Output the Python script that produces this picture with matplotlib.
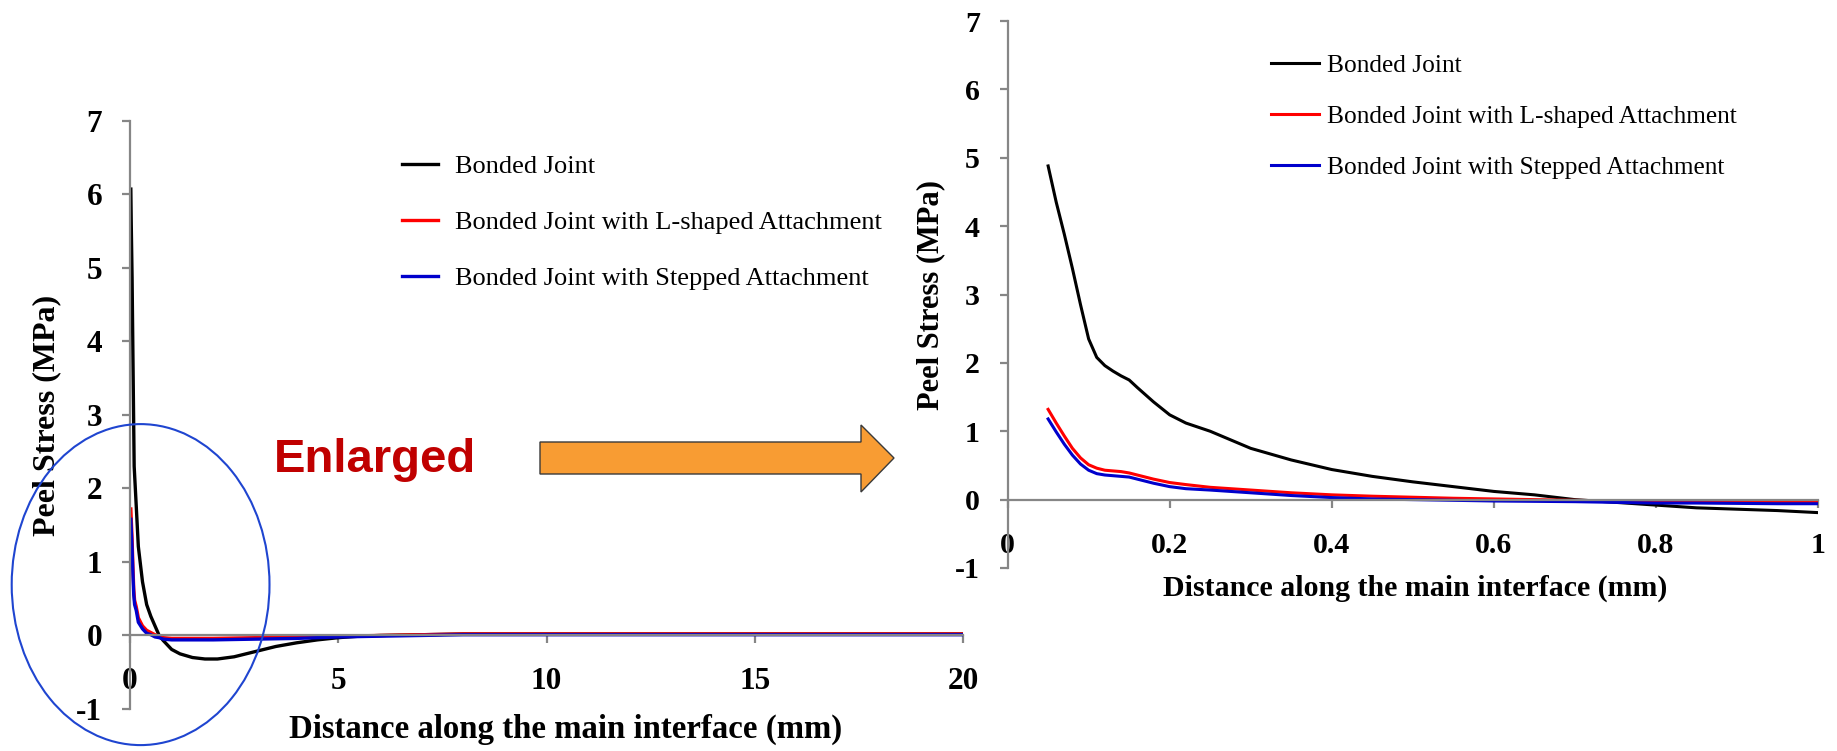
import matplotlib
matplotlib.use("Agg")
import matplotlib.pyplot as plt
from matplotlib.patches import Ellipse, Polygon

# ---------------- data ----------------
series_names = ["Bonded Joint",
                "Bonded Joint with L-shaped Attachment",
                "Bonded Joint with Stepped Attachment"]
series_colors = ["#000000", "#FF0000", "#0000CC"]

# Full interface (left chart), mm / MPa
full_x_black = [0.02, 0.03, 0.05, 0.08, 0.1, 0.15, 0.2, 0.3, 0.4, 0.5, 0.6, 0.7, 0.8, 1.0, 1.2,
                1.5, 1.8, 2.1, 2.5, 3.0, 3.5, 4.0, 4.5, 5.0, 5.5, 6.0, 7.0, 8.0, 10.0, 12.0, 15.0, 18.0, 20.0]
full_y_black = [6.07, 5.6, 4.87, 3.3, 2.3, 1.76, 1.21, 0.73, 0.42, 0.26, 0.13, 0.0, -0.07, -0.19, -0.25,
                -0.30, -0.32, -0.32, -0.29, -0.22, -0.15, -0.10, -0.06, -0.03, -0.01, 0.0, 0.01, 0.02, 0.02, 0.02, 0.02, 0.02, 0.02]
full_x_lshape = [0.02, 0.05, 0.07, 0.09, 0.11, 0.15, 0.2, 0.3, 0.4, 0.5, 0.6, 0.7, 0.8, 1.0,
                 2.0, 3.0, 4.0, 5.0, 6.0, 7.0, 8.0, 10.0, 12.0, 15.0, 18.0, 20.0]
full_y_lshape = [1.72, 1.32, 0.94, 0.63, 0.48, 0.39, 0.24, 0.13, 0.07, 0.04, 0.01, -0.01, -0.03, -0.04,
                 -0.04, -0.03, -0.02, -0.01, 0.0, 0.01, 0.02, 0.02, 0.02, 0.02, 0.02, 0.02]
full_x_stepped = [0.02, 0.05, 0.07, 0.09, 0.11, 0.15, 0.2, 0.3, 0.4, 0.5, 0.6, 0.7, 0.8, 1.0,
                  2.0, 3.0, 4.0, 5.0, 6.0, 7.0, 8.0, 10.0, 12.0, 15.0, 18.0, 20.0]
full_y_stepped = [1.58, 1.18, 0.84, 0.55, 0.42, 0.34, 0.18, 0.09, 0.03, 0.01, -0.02, -0.03, -0.05, -0.06,
                  -0.06, -0.05, -0.04, -0.02, -0.01, 0.0, 0.01, 0.01, 0.01, 0.01, 0.01, 0.01]

# Enlarged region (right chart)
zoom_x = [0.05, 0.06, 0.07, 0.08, 0.09, 0.1, 0.11, 0.12, 0.13, 0.14, 0.15, 0.16, 0.18, 0.2, 0.22, 0.25,
          0.3, 0.35, 0.4, 0.45, 0.5, 0.55, 0.6, 0.65, 0.7, 0.75, 0.8, 0.85, 0.9, 0.95, 1.0]
zoom_y_black = [4.88, 4.35, 3.88, 3.38, 2.85, 2.35, 2.08, 1.96, 1.88, 1.81, 1.75, 1.64, 1.43, 1.24, 1.12, 1.0,
                0.75, 0.58, 0.44, 0.34, 0.26, 0.19, 0.12, 0.07, 0.0, -0.04, -0.08, -0.12, -0.14, -0.16, -0.19]
zoom_y_lshape = [1.32, 1.12, 0.93, 0.75, 0.61, 0.51, 0.46, 0.43, 0.42, 0.41, 0.39, 0.36, 0.30, 0.25, 0.22, 0.18,
                 0.14, 0.10, 0.07, 0.05, 0.035, 0.02, 0.01, 0.0, -0.01, -0.02, -0.03, -0.035, -0.04, -0.04, -0.04]
zoom_y_stepped = [1.18, 0.99, 0.81, 0.65, 0.52, 0.43, 0.38, 0.36, 0.35, 0.34, 0.33, 0.30, 0.24, 0.19, 0.16, 0.14,
                  0.10, 0.06, 0.03, 0.01, 0.0, -0.01, -0.02, -0.025, -0.03, -0.04, -0.05, -0.05, -0.055, -0.06, -0.06]

left_xticks = [0, 5, 10, 15, 20]
left_xticklabels = ["0", "5", "10", "15", "20"]
right_xticks = [0, 0.2, 0.4, 0.6, 0.8, 1.0]
right_xticklabels = ["0", "0.2", "0.4", "0.6", "0.8", "1"]
yticks = [-1, 0, 1, 2, 3, 4, 5, 6, 7]
yticklabels = ["-1", "0", "1", "2", "3", "4", "5", "6", "7"]

x_label = "Distance along the main interface (mm)"
y_label = "Peel Stress (MPa)"

# ---------------- figure ----------------
W, H = 1837, 751
fig = plt.figure(figsize=(W / 100, H / 100), dpi=100)
SERIF = "Liberation Serif"
AX_GRAY = "#868686"


def fx(px):
    return px / W


def fy(py):
    return 1 - py / H


def style_axes(ax, xlim, xticks, xticklabels, tsize, xpad, ypad):
    ax.set_xlim(*xlim)
    ax.set_ylim(-1, 7)
    for s in ("top", "right"):
        ax.spines[s].set_visible(False)
    ax.spines["bottom"].set_position(("data", 0))
    for s in ("left", "bottom"):
        ax.spines[s].set_color(AX_GRAY)
        ax.spines[s].set_linewidth(1.6)
    ax.set_xticks(xticks)
    ax.set_xticklabels(xticklabels)
    ax.set_yticks(yticks)
    ax.set_yticklabels(yticklabels)
    ax.tick_params(axis="both", direction="out", length=6, width=1.6, color=AX_GRAY)
    ax.tick_params(axis="x", pad=xpad)
    ax.tick_params(axis="y", pad=ypad)
    for lab in ax.get_xticklabels() + ax.get_yticklabels():
        lab.set_fontfamily(SERIF)
        lab.set_fontweight("bold")
        lab.set_fontsize(tsize)
    ax.patch.set_alpha(0)


# Left chart
axL = fig.add_axes([fx(130), fy(709), fx(963 - 130), (709 - 120.7) / H])
axL.plot(full_x_black, full_y_black, color=series_colors[0], lw=2.4, label=series_names[0])
axL.plot(full_x_lshape, full_y_lshape, color=series_colors[1], lw=2.4, label=series_names[1])
axL.plot(full_x_stepped, full_y_stepped, color=series_colors[2], lw=2.4, label=series_names[2])
style_axes(axL, (0, 20), left_xticks, left_xticklabels, 22.5, 17, 14)
legL = axL.legend(loc="upper left", bbox_to_anchor=(fx(402), fy(155)), bbox_transform=fig.transFigure,
                  frameon=False, borderpad=0, borderaxespad=0, handlelength=1.35, handletextpad=0.65,
                  labelspacing=1.22, prop={"family": SERIF, "size": 19})

# Right chart
axR = fig.add_axes([fx(1007.6), fy(568), fx(1818 - 1007.6), (568 - 21) / H])
axR.plot(zoom_x, zoom_y_black, color=series_colors[0], lw=2.2, label=series_names[0])
axR.plot(zoom_x, zoom_y_lshape, color=series_colors[1], lw=2.2, label=series_names[1])
axR.plot(zoom_x, zoom_y_stepped, color=series_colors[2], lw=2.2, label=series_names[2])
style_axes(axR, (0, 1), right_xticks, right_xticklabels, 21.5, 17, 14)
legR = axR.legend(loc="upper left", bbox_to_anchor=(fx(1271), fy(54)), bbox_transform=fig.transFigure,
                  frameon=False, borderpad=0, borderaxespad=0, handlelength=1.9, handletextpad=0.3,
                  labelspacing=1.12, prop={"family": SERIF, "size": 18.3})

# Axis titles
fig.text(fx(566), fy(729), x_label, family=SERIF, weight="bold", fontsize=23.6, ha="center", va="center")
fig.text(fx(47), fy(415), y_label, family=SERIF, weight="bold", fontsize=23, ha="center", va="center",
         rotation=90)
fig.text(fx(1415), fy(588), x_label, family=SERIF, weight="bold", fontsize=21.5, ha="center", va="center")
fig.text(fx(931), fy(295), y_label, family=SERIF, weight="bold", fontsize=22, ha="center", va="center",
         rotation=90)

# Annotations: ellipse, "Enlarged", arrow
fig.add_artist(Ellipse((fx(140.6), fy(584.6)), 257.8 / W, 321 / H, transform=fig.transFigure,
                       fill=False, edgecolor="#1F45D0", lw=1.5, zorder=5))
fig.text(fx(375), fy(460), "Enlarged", color="#C00000", fontsize=34, weight="bold",
         family="Liberation Sans", ha="center", va="center")
arrow_px = [(540, 442), (861, 442), (861, 425), (894, 458), (861, 492), (861, 474), (540, 474)]
fig.add_artist(Polygon([(fx(a), fy(b)) for a, b in arrow_px], closed=True, transform=fig.transFigure,
                       facecolor="#F89C33", edgecolor="#3A3A3A", lw=1.0, zorder=5))

fig.savefig("out.png", dpi=100)
